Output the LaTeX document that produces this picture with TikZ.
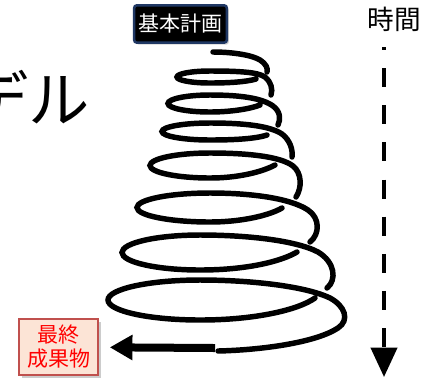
\documentclass[tikz,border=0pt]{standalone}
\usepackage{fontspec}
\newfontfamily\jp{Noto Sans CJK JP}
\usetikzlibrary{arrows.meta,shadows}
\definecolor{navyb}{RGB}{32,56,100}
\definecolor{peach}{RGB}{252,228,214}
\definecolor{redb}{RGB}{192,80,77}
\begin{document}
\begin{tikzpicture}[x=0.75pt,y=0.75pt,
  coil/.style={line width=4.1pt, line cap=round},
  planbox/.style={fill=black, draw=navyb, line width=1.9pt, rounded corners=2pt,
    minimum width=69.5pt, minimum height=28pt, inner sep=0pt, text=white,
    font=\jp\fontsize{15.75pt}{18pt}\selectfont,
    drop shadow={shadow xshift=1.5pt, shadow yshift=-1.5pt, opacity=0.35}},
  resultbox/.style={fill=peach, draw=redb, line width=1.9pt,
    minimum width=59pt, minimum height=42pt, inner sep=0pt, text=red, align=center,
    font=\jp\fontsize{15.75pt}{18pt}\selectfont,
    drop shadow={shadow xshift=2pt, shadow yshift=-2pt, opacity=0.4}},
  biglabel/.style={font=\jp\fontsize{46pt}{50pt}\selectfont, inner sep=0pt},
  timelabel/.style={font=\jp\fontsize{20pt}{24pt}\selectfont, inner sep=0pt},
  timearrow/.style={line width=3pt, dash pattern=on 14.25pt off 13.6pt, dash phase=12pt,
    -{Triangle[length=22pt, width=19.5pt]}},
  finalarrow/.style={line width=6pt, -{Triangle[length=17pt, width=18pt]}}
]
\useasboundingbox (0,0) rectangle (424,-380);
\fill[white] (0,0) rectangle (424,-380);

% title fragment
\node[biglabel, anchor=east] (title) at (90,-98) {デル};

% labels
\node[planbox] (plan) at (180.5,-24) {基本計画};
\node[resultbox] (res) at (58.5,-347) {最終\\成果物};
\node[timelabel] (time) at (394,-19) {時間};

% time arrow
\coordinate (tstart) at (384,-47);
\coordinate (tend) at (384,-377);
\draw[timearrow] (tstart) -- (tend);

% spiral
\draw[coil] (213,-52) .. controls (232,-52) and (252,-55) .. (260,-60)
  .. controls (266,-64) and (268,-68) .. (267,-72);
\draw[coil] (256,-79) .. controls (246,-82) and (228,-83) .. (210,-83)
  arc[start angle=270, end angle=90, x radius=33, y radius=6]
  .. controls (238,-71) and (258,-72) .. (265,-77)
  .. controls (271,-82) and (273,-89) .. (271,-95);
\draw[coil] (260,-105) .. controls (250,-109) and (230,-112) .. (210,-112)
  arc[start angle=270, end angle=90, x radius=42, y radius=8.5]
  .. controls (240,-95) and (262,-98) .. (273,-106)
  .. controls (280,-111) and (281,-119) .. (278,-125);
\draw[coil] (267,-135) .. controls (255,-139) and (232,-140) .. (210,-140)
  arc[start angle=270, end angle=90, x radius=48, y radius=8.5]
  .. controls (245,-123) and (270,-126) .. (282,-134)
  .. controls (290,-140) and (293,-150) .. (292,-157);
\draw[coil] (275,-165) .. controls (262,-172) and (238,-178) .. (210,-178)
  arc[start angle=270, end angle=90, x radius=60, y radius=12.5]
  .. controls (245,-153) and (280,-156) .. (293,-166)
  .. controls (302,-173) and (302,-188) .. (296,-197);
\draw[coil] (282,-208) .. controls (268,-216) and (240,-222) .. (210,-222)
  arc[start angle=270, end angle=90, x radius=73, y radius=14.5]
  .. controls (250,-193) and (290,-198) .. (308,-210)
  .. controls (320,-218) and (320,-234) .. (310,-242);
\draw[coil] (297,-252) .. controls (280,-262) and (245,-270) .. (200,-270)
  arc[start angle=270, end angle=90, x radius=78, y radius=17.5]
  .. controls (245,-235) and (295,-240) .. (318,-252)
  .. controls (335,-262) and (337,-280) .. (327,-288);
\draw[coil] (315,-298) .. controls (298,-310) and (255,-320) .. (200,-320)
  arc[start angle=270, end angle=90, x radius=92, y radius=20]
  .. controls (250,-280) and (305,-286) .. (330,-298)
  .. controls (345,-306) and (350,-320) .. (338,-328)
  .. controls (315,-343) and (260,-350) .. (218,-351);

% final arrow
\coordinate (fa) at (215,-348);
\draw[finalarrow, shorten >=8pt] (fa) -- (res);
\end{tikzpicture}
\end{document}
